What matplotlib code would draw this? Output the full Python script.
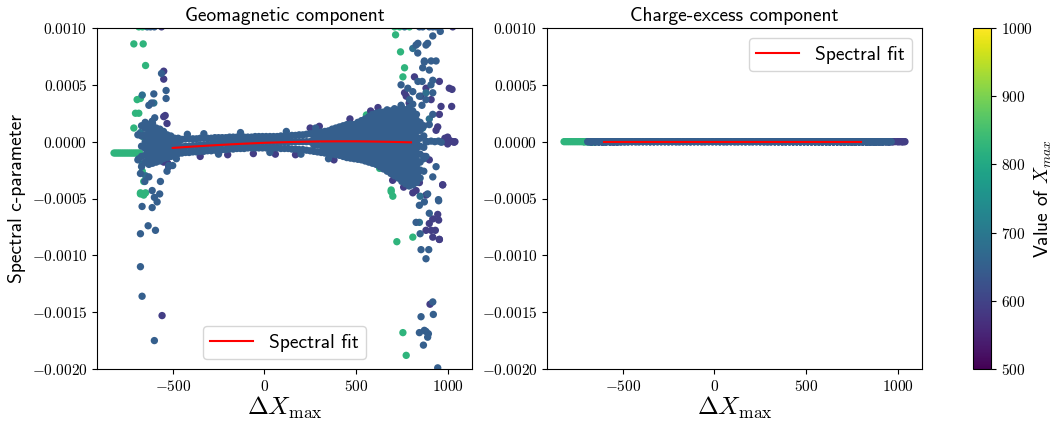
import numpy as np
import matplotlib
matplotlib.use("Agg")
import matplotlib.pyplot as plt
from matplotlib.ticker import FuncFormatter, FixedLocator

plt.rcParams["mathtext.fontset"] = "cm"
SANS = "cmss10"

# ---------------------------------------------------------------------------
# Data: spectral c-parameter (units of 1e-4) versus Delta X_max, grouped by
# the shower X_max value that sets the colour.
# ---------------------------------------------------------------------------
XMAX_GREEN, XMAX_TEAL, XMAX_BLUE, XMAX_PURPLE = 825, 680, 650, 590

green_dx = [-820, -810, -800, -790, -780, -770, -760, -750, -740, -730, -720, -710, -700, -690, -680,
            -712, -661, -648, -694, -676, -703, -685, -712, -676, -658, -685, -665, -658, -666, -658, -648, -676,
            710, 738, 716, 743, 756, 765, 692, 701, 723, 810, 756, 774, 557, 629, 692, 430, 792]
green_c = [-1.0, -1.0, -1.0, -1.0, -1.0, -1.0, -1.0, -1.0, -1.0, -1.0, -1.0, -1.0, -1.0, -1.0, -1.0,
           8.6, 8.6, 6.7, 3.7, 3.8, 2.5, 2.5, 1.2, -4.6, -4.7, 10.1, 10.1, 0.4, -2.6, -3.5, -4.5, -4.5,
           10.1, 10.1, 9.4, 7.9, 5.7, 6.5, -4.4, -4.8, -8.8, -8.4, -16.8, -18.8, 2.35, -2.35, -4.25, -1.1, 10.1]

purple_dx = [-561, -549, -549, -549, -541, -531, -522, -549, -527, -558,
             -350, -200, -60, 60, 170, 250, 300, 380,
             467, 620, 580, 700, 760, 790, 846,
             1028, 819, 882, 955, 1009, 1024, 774, 855, 910, 964, 1022, 955, 946, 1028, 973,
             900, 973, 828, 919, 951, 882, 910, 955, 904, 919, 900, 933, 955, 946, 973, 810, 882,
             985, 1000, 1012, 1036, 1040, 937, 873, 765, 1000]
purple_c = [10.1, 6.2, 5.5, 2.2, 2.3, 1.6, -2.2, -1.8, -1.9, -15.3,
            -1.3, -1.15, -1.05, -1.1, -1.15, 1.2, 1.35, -1.6,
            2.0, 3.0, 2.7, -3.4, -4.0, 3.4, -3.6,
            10.1, 5.7, 4.7, 5.3, 4.7, 4.6, 4.0, 4.0, 3.7, 3.1, 3.1, 2.4, 1.3, 0.0, 0.0,
            -1.6, -3.8, -4.3, -6.8, -6.9, -7.8, -7.8, -8.6, -14.3, -8.4, -7.2, -7.8, -8.6, -6.4, -3.8, -4.5, -4.7,
            0.3, -0.2, 0.1, -0.05, 0.0, 1.0, -1.3, 4.3, 0.4]

teal_dx = [-666, -639, -676, -666, -648, -685, -603, 765, 850, 864, 900, 846, 810, 882]
teal_c = [4.1, 10.1, 0.8, -2.0, -3.0, -1.5, 3.4, 10.1, -4.8, 1.2, 2.0, -7.1, 8.2, 4.3]

# Dense blue population, listed column by column
blue_col_dx = [-690, -670, -650, -630, -610, -590, -570, -550, -530, -510, -490, -470,
               -450, -430, -410, -390, -370, -350, -330, -310, -290, -270, -250, -230, -210,
               -190, -170, -150, -130, -110, -90, -70, -50, -30, -10, 10, 30, 50, 70, 90,
               110, 130, 150, 170, 190, 210, 230, 250, 270, 290, 310,
               330, 350, 370, 390, 410, 430, 450, 470, 490, 510, 530, 550, 570, 590, 610,
               630, 650, 670, 690, 710, 730, 750, 770, 790, 810, 830, 850, 870,
               890, 910, 930, 950, 965]
blue_col_c = [
    [-1.6, 0.6],
    [-2.2, -1.3, -0.4, 0.5, 1.4],
    [-1.8, -1.2, -0.6, 0.0, 0.6, 1.2, 1.7],
    [-2.0, -1.5, -1.0, -0.5, 0.0, 0.5, 1.0, 1.5],
    [-1.9, -1.4, -0.9, -0.4, 0.1, 0.6, 1.1, 1.6],
    [-1.8, -1.3, -0.8, -0.3, 0.2, 0.7, 1.2],
    [-1.7, -1.2, -0.7, -0.2, 0.3, 0.8, 1.1],
    [-1.5, -1.0, -0.5, 0.0, 0.5, 0.9],
    [-1.4, -0.9, -0.4, 0.1, 0.6],
    [-1.3, -0.8, -0.3, 0.2, 0.5],
    [-1.1, -0.6, -0.1, 0.3],
    [-1.05, -0.55, -0.05, 0.3],
    [-1.0, -0.45, 0.2],
    [-0.95, -0.4, 0.25],
    [-0.95, -0.4, 0.25],
    [-0.9, -0.35, 0.25],
    [-0.9, -0.35, 0.25],
    [-0.85, -0.3, 0.3],
    [-0.85, -0.3, 0.3],
    [-0.8, -0.25, 0.3],
    [-0.8, -0.25, 0.3],
    [-0.75, -0.2, 0.35],
    [-0.75, -0.2, 0.35],
    [-0.7, -0.15, 0.35],
    [-0.7, -0.15, 0.35],
    [-0.65, -0.1, 0.4],
    [-0.65, -0.1, 0.4],
    [-0.6, -0.1, 0.4],
    [-0.6, -0.1, 0.4],
    [-0.6, -0.05, 0.4],
    [-0.55, -0.05, 0.4],
    [-0.55, -0.05, 0.4],
    [-0.55, 0.0, 0.45],
    [-0.55, 0.0, 0.45],
    [-0.55, 0.0, 0.45],
    [-0.55, 0.0, 0.45],
    [-0.55, 0.0, 0.45],
    [-0.55, 0.0, 0.45],
    [-0.55, 0.0, 0.45],
    [-0.6, 0.0, 0.5],
    [-0.6, 0.0, 0.5],
    [-0.6, 0.0, 0.5],
    [-0.65, 0.0, 0.55],
    [-0.65, 0.0, 0.55],
    [-0.7, 0.0, 0.6],
    [-0.7, 0.0, 0.6],
    [-0.75, 0.0, 0.65],
    [-0.8, 0.0, 0.7],
    [-0.85, -0.3, 0.25, 0.75],
    [-0.9, -0.3, 0.3, 0.8],
    [-0.95, -0.35, 0.3, 0.85],
    [-1.0, -0.5, 0.0, 0.5, 0.9],
    [-1.05, -0.55, -0.05, 0.45, 0.95],
    [-1.1, -0.6, -0.1, 0.4, 0.9, 1.1],
    [-1.15, -0.65, -0.15, 0.35, 0.85, 1.2],
    [-1.2, -0.7, -0.2, 0.3, 0.8, 1.3],
    [-1.3, -0.8, -0.3, 0.2, 0.7, 1.2, 1.4],
    [-1.4, -0.9, -0.4, 0.1, 0.6, 1.1, 1.5],
    [-1.45, -0.95, -0.45, 0.05, 0.55, 1.05, 1.55],
    [-1.5, -1.0, -0.5, 0.0, 0.5, 1.0, 1.5],
    [-1.55, -1.05, -0.55, -0.05, 0.45, 0.95, 1.45, 1.7],
    [-1.6, -1.1, -0.6, -0.1, 0.4, 0.9, 1.4, 1.85],
    [-1.7, -1.2, -0.7, -0.2, 0.3, 0.8, 1.3, 1.8, 2.0],
    [-1.8, -1.3, -0.8, -0.3, 0.2, 0.7, 1.2, 1.7, 2.2],
    [-1.9, -1.4, -0.9, -0.4, 0.1, 0.6, 1.1, 1.6, 2.1, 2.4],
    [-2.0, -1.5, -1.0, -0.5, 0.0, 0.5, 1.0, 1.5, 2.0, 2.5],
    [-2.2, -1.7, -1.2, -0.7, -0.2, 0.3, 0.8, 1.3, 1.8, 2.3, 2.6],
    [-2.4, -1.9, -1.4, -0.9, -0.4, 0.1, 0.6, 1.1, 1.6, 2.1, 2.6],
    [-2.6, -2.1, -1.6, -1.1, -0.6, -0.1, 0.4, 0.9, 1.4, 1.9, 2.4, 2.8],
    [-2.8, -2.3, -1.8, -1.3, -0.8, -0.3, 0.2, 0.7, 1.2, 1.7, 2.2, 2.7],
    [-3.0, -2.5, -2.0, -1.5, -1.0, -0.5, 0.0, 0.5, 1.0, 1.5, 2.0, 2.5, 2.9],
    [-3.2, -2.7, -2.2, -1.7, -1.2, -0.7, -0.2, 0.3, 0.8, 1.3, 1.8, 2.3, 2.8],
    [-3.5, -3.0, -2.5, -2.0, -1.5, -1.0, -0.5, 0.0, 0.5, 1.0, 1.5, 2.0, 2.5, 3.0],
    [-3.7, -3.2, -2.7, -2.2, -1.7, -1.2, -0.7, -0.2, 0.3, 0.8, 1.3, 1.8, 2.3, 2.8],
    [-3.9, -3.4, -2.9, -2.4, -1.9, -1.4, -0.9, -0.4, 0.1, 0.6, 1.1, 1.6, 2.1, 2.6, 3.0],
    [-3.8, -3.3, -2.8, -2.3, -1.8, -1.3, -0.8, -0.3, 0.2, 0.7, 1.2, 1.7, 2.2, 2.7],
    [-3.6, -3.1, -2.6, -2.1, -1.6, -1.1, -0.6, -0.1, 0.4, 0.9, 1.4, 1.9, 2.4],
    [-3.2, -2.5, -1.8, -1.1, -0.4, 0.3, 1.0, 1.7],
    [-2.6, -1.5, -0.5, 0.5, 1.4],
    [0.0], [0.05], [0.0], [0.05], [-0.05],
]

# Scattered blue showers away from the dense band
blue_out_dx = [-561, -536, -536, -603, -616, -630, -598, -612, -621, -600,
               -676, -630, -652, -612, -567, -600, -571, -585, -667, -612, -634, -594, -676, -676,
               -667, -600, -522, -531, -420, -330, -250, -130, 30, 120, 200, 280, 350, -480, -500,
               960, 919, 882, 828, 837, 873, 910, 937, 864, 861, 919, 810, 919, 919, 900, 882,
               882, 937, 837, 919, 891, 873, 846, 951, 900, 828, 850, 855, 897, 882,
               919, 922, 855, 873, 846, 895, 891, 868, 946, 882, 950,
               900, 919, 937, 955, 846, 864,
               838, 891, 873, 900, 746, 783, 838, 909, 846, 882, 792, 746, 810, 860]
blue_out_c = [6.0, 4.5, 3.8, 4.2, 3.4, 3.2, 2.1, 1.8, 10.1, 10.1,
              -2.8, -3.1, -3.5, -4.3, -3.5, -4.9, -4.6, -5.3, -5.7, -5.8, -7.4, -7.8, -8.1, -11.0,
              -13.6, -17.5, -2.1, -2.6, 0.65, 0.7, -1.1, 0.8, -0.95, 0.9, -1.1, 1.2, -1.5, -1.5, -2.1,
              9.7, 9.3, 8.5, 8.5, 7.8, 7.1, 7.1, 7.1, 6.5, 5.3, 5.4, 4.4, 4.3, 2.4, 1.5, 0.0,
              -1.3, -2.2, -2.8, -3.1, -4.6, -5.3, -5.6, -5.2, -6.3, -7.1, -8.1, -9.5, -9.5, -10.3,
              -14.1, -15.2, -15.4, -16.6, -16.8, -16.9, -17.2, -17.9, -19.9, -16.7, -5.1,
              10.1, 10.1, 10.1, 10.1, 10.1, 10.1,
              8.65, 8.65, 7.0, 6.3, 5.0, 4.7, 5.3, 5.0, 4.0, 3.7, 3.7, 3.2, 3.3, 3.2]

# Spectral fits (units of 1e-4)
fit_geo_dx = [-500, -400, -300, -200, -100, 0, 100, 200, 300, 400, 500, 600, 700, 800]
fit_geo_c = [-0.55, -0.44, -0.34, -0.25, -0.17, -0.10, -0.05, -0.01, 0.02, 0.03, 0.03, 0.01, -0.02, -0.06]
fit_ce_dx = [-600, 800]
fit_ce_c = [0.0, 0.0]

UNIT = 1e-4

# Assemble the populations in drawing order
blue_dx = [d for d, col in zip(blue_col_dx, blue_col_c) for _ in col] + blue_out_dx
blue_c = [v for col in blue_col_c for v in col] + blue_out_c

groups = [
    (green_dx, green_c, XMAX_GREEN),
    (purple_dx, purple_c, XMAX_PURPLE),
    (teal_dx, teal_c, XMAX_TEAL),
    (blue_dx, blue_c, XMAX_BLUE),
]

all_dx = np.concatenate([np.asarray(g[0], float) for g in groups])
geo_c = np.concatenate([np.asarray(g[1], float) for g in groups]) * UNIT
xmax = np.concatenate([np.full(len(g[0]), g[2], float) for g in groups])
ce_c = np.zeros_like(all_dx)  # charge-excess c-parameter is zero for every shower

# ---------------------------------------------------------------------------
fig = plt.figure(figsize=(10.54, 4.22), dpi=100)
ax1 = fig.add_axes([97 / 1054, 53 / 422, 375 / 1054, 341 / 422])
ax2 = fig.add_axes([547 / 1054, 53 / 422, 375 / 1054, 341 / 422])
cax = fig.add_axes([973 / 1054, 53 / 422, 18 / 1054, 341 / 422])

scatter_kw = dict(cmap="viridis", vmin=500, vmax=1000, s=28, linewidths=0)

sc = ax1.scatter(all_dx, geo_c, c=xmax, **scatter_kw)
ax1.plot(fit_geo_dx, np.asarray(fit_geo_c) * UNIT, color="red", lw=1.5, label="Spectral fit")

ax2.scatter(all_dx, ce_c, c=xmax, **scatter_kw)
ax2.plot(fit_ce_dx, np.asarray(fit_ce_c) * UNIT, color="red", lw=1.5, label="Spectral fit")

yfmt = FuncFormatter(lambda v, p: "$%.4f$" % v if abs(v) > 1e-12 else "$0.0000$")
xfmt = FuncFormatter(lambda v, p: "$%d$" % round(v))

for ax, title in ((ax1, "Geomagnetic component"), (ax2, "Charge-excess component")):
    ax.set_ylim(-0.002, 0.001)
    ax.set_xlim(-913, 1133)
    ax.yaxis.set_major_locator(FixedLocator([-0.002, -0.0015, -0.001, -0.0005, 0.0, 0.0005, 0.001]))
    ax.xaxis.set_major_locator(FixedLocator([-500, 0, 500, 1000]))
    ax.yaxis.set_major_formatter(yfmt)
    ax.xaxis.set_major_formatter(xfmt)
    ax.tick_params(labelsize=11)
    ax.set_title(title, family=SANS, fontsize=14, pad=5)
    ax.set_xlabel(r"$\Delta X_{\rm max}$", fontsize=18, labelpad=1)

ax1.set_ylabel("Spectral c-parameter", family=SANS, fontsize=14)
ax1.legend(loc="lower center", prop={"family": SANS, "size": 14}, handlelength=2.2)
ax2.legend(loc="upper right", prop={"family": SANS, "size": 14}, handlelength=2.2)

cb = fig.colorbar(sc, cax=cax)
cb.set_ticks([500, 600, 700, 800, 900, 1000])
cb.ax.yaxis.set_major_formatter(FuncFormatter(lambda v, p: "$%d$" % round(v)))
cb.ax.tick_params(labelsize=11)
cb.outline.set_linewidth(0.8)
cb.set_label(r"Value of $X_{max}$", family=SANS, fontsize=14, labelpad=0)

fig.savefig("out.png", dpi=100)
